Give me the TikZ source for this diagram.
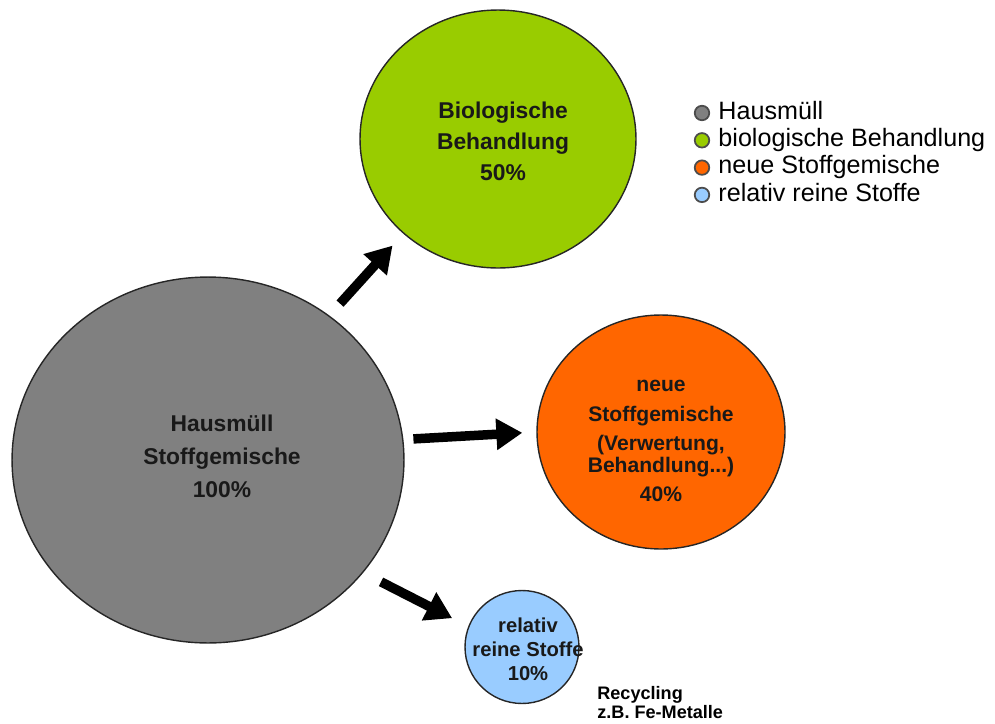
\documentclass[tikz,border=0pt]{standalone}
\usepackage{fontspec}
\setmainfont{Liberation Sans}
\usepackage[x11names]{xcolor}
\usepackage{tikz}
\usetikzlibrary{shapes.geometric, arrows.meta, positioning}

\definecolor{muellgray}{HTML}{808080}
\definecolor{biogreen}{HTML}{99CC00}
\definecolor{mixorange}{HTML}{FF6600}
\definecolor{pureblue}{HTML}{99CCFF}

\begin{document}
\begin{tikzpicture}[x=0.02cm, y=0.02cm,
    blob/.style={ellipse, draw=black!85, line width=0.8pt, inner sep=0pt},
    blobtext/.style={align=center, text=black!90, inner sep=0pt},
    fatarrow/.style={line width=0.19cm, -{Triangle[length=0.52cm, width=0.6cm]}},
    legdot/.style={circle, draw=black!70, line width=1pt, minimum size=0.29cm, inner sep=0pt},
    legtext/.style={font=\fontsize{14.3}{16}\selectfont, inner sep=0pt, text height=0.72em, text depth=0pt}]
    \useasboundingbox (0,0) rectangle (995,-724);
    % the four fractions
    \node[blob, fill=muellgray, minimum width=7.84cm, minimum height=7.32cm,
        label={[blobtext, font=\bfseries\fontsize{13}{18.7}\selectfont, xshift=0.28cm, yshift=0.08cm]center:Hausmüll\\Stoffgemische\\100\%}] (haus) at (208,-460) {};
    \node[blob, fill=biogreen, minimum width=5.52cm, minimum height=5.16cm,
        label={[blobtext, font=\bfseries\fontsize{13}{17.6}\selectfont, xshift=0.1cm, yshift=-0.04cm]center:Biologische\\Behandlung\\50\%}] (bio) at (498,-139) {};
    \node[blob, fill=mixorange, minimum width=4.96cm, minimum height=4.68cm,
        label={[blobtext, font=\bfseries\fontsize{12}{17}\selectfont, yshift=-0.18cm]center:neue\\Stoffgemische\\(Verwertung,\\[-5pt]Behandlung...)\\40\%}] (neu) at (661,-432) {};
    \node[blob, fill=pureblue, minimum width=2.28cm, minimum height=2.26cm,
        label={[blobtext, font=\bfseries\fontsize{11.5}{13.6}\selectfont, xshift=0.12cm, yshift=-0.04cm]center:relativ\\reine Stoffe\\10\%}] (rein) at (522,-647) {};
    \node[anchor=north west, align=left, inner sep=0pt, font=\bfseries\fontsize{10.3}{11}\selectfont] (recy) at (597,-686) {Recycling\\z.B. Fe-Metalle};

    % arrows
    \draw[fatarrow, shorten <=0.32cm, shorten >=0.32cm] (haus.50) -- (bio.225);
    \draw[fatarrow, shorten <=0.2cm, shorten >=0.28cm] (haus.6) -- (neu.west);
    \draw[fatarrow, shorten <=0.4cm, shorten >=0.36cm] (haus.-36) -- (rein.159);

    % legend
    \foreach \c/\t [count=\i] in {muellgray/Hausmüll, biogreen/biologische Behandlung, mixorange/neue Stoffgemische, pureblue/relativ reine Stoffe} {
        \node[legdot, fill=\c] (dot\i) at (702,{-113-27.3*(\i-1)}) {};
        \node[legtext, right=0.16cm of dot\i] (leg\i) {\t};
    }
\end{tikzpicture}
\end{document}
